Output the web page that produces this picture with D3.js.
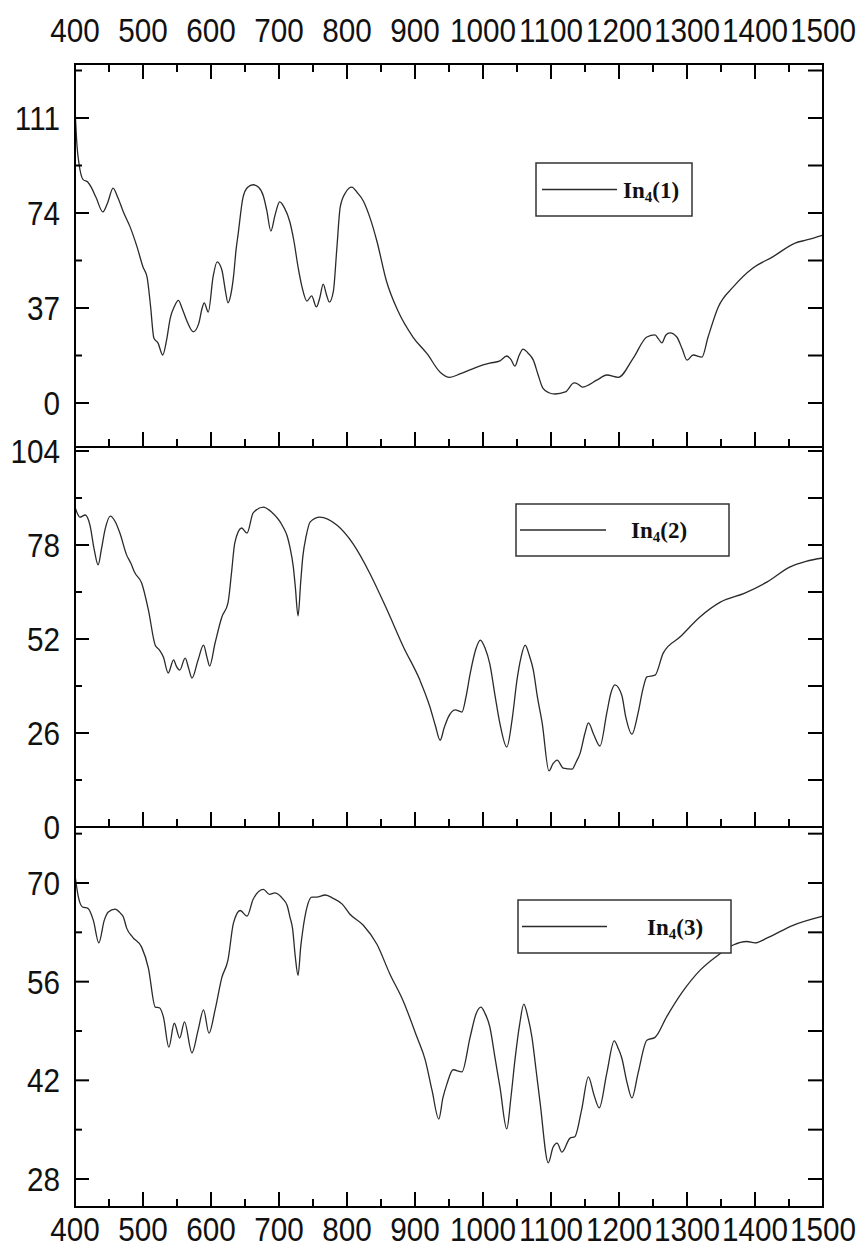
<!DOCTYPE html>
<html>
<head>
<meta charset="utf-8">
<script src="https://cdn.jsdelivr.net/npm/d3@7"></script>
<style>
  body { margin: 0; background: #fff; }
  svg { display: block; }
</style>
</head>
<body>
<script>
// wavenumber ticks (shared by all three panels)
var waveTicks = [400, 500, 600, 700, 800, 900, 1000, 1100, 1200, 1300, 1400, 1500];

// In4(1)
var wave1 = [400,403,406,412,419,424,431,441,448,456,463,471,481,491,500,506,511,516,522,529,535,540,546,552,558,564,574,582,587,590,596,603,609,616,621,625,629,633,637,640,647,654,662,670,677,682,688,694,701,708,716,722,728,734,741,748,755,760,765,770,774,780,785,790,798,807,815,824,834,844,858,875,897,918,937,951,966,991,1010,1025,1035,1041,1047,1053,1059,1066,1074,1081,1088,1097,1106,1121,1134,1140,1146,1168,1182,1199,1221,1241,1253,1258,1263,1269,1275,1285,1293,1300,1309,1322,1331,1346,1368,1397,1426,1459,1476,1500];
var trans1 = [115,100,93,87,86,84,80,74.4,78,83.7,80,74.5,68.6,61,53,49,38,25.3,23.4,18.7,25,33,37.5,40,36.5,32.3,27.7,31,37,39,35.4,49,55,51.8,44,39,42,49,60,66,80,84,85,84,80.6,75,67,73,78.3,76,70.5,63,53,45,39.7,41.7,37.4,41,46.3,42,39.3,43.6,60,76.3,82,84.1,82,78.7,72,63,47.5,35.8,25.7,19.1,12,10,11.3,14,15.5,16.4,18.3,17,14.4,18.5,21,19.5,16.7,11,5.8,4,3.5,4.3,7.8,7.3,6.2,9,10.9,10,17.5,25.7,26.5,25,23.4,26.5,27.3,25.7,21,16.7,18.7,17.9,25.7,37.4,45.2,52.6,56.9,62.3,63.5,65.4];

// In4(2)
var wave2 = [400,404,407,415,422,428,434,439,444,452,459,466,476,482,488,498,508,518,524,530,537,545,549,554,562,567,572,581,589,594,598,606,616,625,630,635,645,653,662,677,689,706,712,716,721,724,728,732,735,740,746,760,785,809,834,859,883,907,922,930,937,943,949,959,969,975,981,990,996,1003,1010,1018,1025,1035,1043,1050,1056,1062,1068,1074,1080,1087,1097,1103,1109,1118,1131,1137,1143,1150,1155,1163,1172,1182,1188,1194,1204,1210,1219,1228,1235,1241,1253,1265,1290,1319,1349,1385,1418,1451,1475,1500];
var trans2 = [88.5,86.5,85.7,86.3,83.5,77,72.5,77,82.1,86,84.5,81.3,75.2,73,70.3,67.5,60,50.3,49,47,42.6,46.2,44.5,43.4,46.7,44,41.2,46.2,50.3,47,44.5,50.9,58.1,62,70,78.6,82.7,81.3,86.9,88.5,87.1,83,80.5,77.5,72,66.4,58.4,68,74.7,80.5,84.4,85.7,83.5,78.3,70,60,49.8,40.7,33.2,28,24,27.5,30.4,32.4,31.8,36,42.3,49.5,51.7,49.5,45.1,36,28.5,22.1,30,40.7,47,50.3,47.5,43.4,36,28.8,15.5,17.5,18.5,16.3,16,18,20.5,26,28.8,25.5,22.4,31.5,37,39.3,36.5,30.4,25.7,31.5,38,41.5,42,48.1,52.6,58.1,62.2,64.7,67.8,71.9,73.5,74.4];

// In4(3)
var wave3 = [400,405,411,419,427,435,443,449,459,466,471,476,485,498,508,518,524,530,538,546,554,561,572,581,589,597,606,616,625,633,643,653,662,677,686,694,706,712,716,720,724,728,732,735,741,748,755,768,780,793,804,824,844,863,882,903,915,925,935,941,947,956,969,981,990,997,1003,1010,1018,1025,1035,1041,1047,1054,1060,1066,1072,1078,1084,1096,1103,1109,1116,1128,1135,1145,1155,1163,1171,1182,1193,1199,1204,1212,1219,1228,1241,1253,1270,1293,1319,1349,1368,1388,1400,1418,1456,1500];
var trans3 = [71.1,68,66.6,66.4,64.7,61.5,64.7,65.9,66.3,65.8,65.2,63.6,62.3,60.9,57.9,52.4,52.3,51,46.7,50.1,48,50.3,45.9,49.1,52,48.7,52,56.6,59.1,64.3,66.1,65.3,67.7,69.1,68.4,68.6,67.7,66.8,65.2,63.5,59.5,56.9,61,63.3,66.5,68,68,68.3,67.8,67,65.6,64,61.3,57.1,53.4,48.1,44.9,40.6,36.5,39.5,41.5,43.5,43.2,48.1,51.5,52.4,51.5,49.6,45,41,35.1,39.5,44.9,50,52.8,51,48.1,43.5,38.8,30.3,32.5,33.1,31.8,33.8,34,37.8,42.5,40,38.1,43,47.6,46.5,45.2,41.6,39.5,43,47.7,48.1,51,54.5,57.6,60,61.2,61.7,61.5,62.2,64,65.3];

var majorY1 = [0, 37, 74, 111];
var minorY1 = [18.5, 55.5, 92.5, 129.5];
var majorY2 = [0, 26, 52, 78, 104];
var minorY2 = [13, 39, 65, 91];
var majorY3 = [28, 42, 56, 70];
var minorY3 = [35, 49, 63, 77];

var labels = ['In', '4', '(1)', '(2)', '(3)'];

var W = 862, H = 1249;
var left = 75, right = 823;
var narrow = 0.9; // the tick labels are a bit condensed

var svg = d3.select('body').append('svg')
  .attr('width', W)
  .attr('height', H);

var x = d3.scaleLinear().domain([400, 1500]).range([left, right]);

var panels = [
  { top: 64, bottom: 447, y: d3.scaleLinear().domain([0, 111]).range([403, 118]),
    wave: wave1, trans: trans1, major: majorY1, minor: minorY1, name: labels[2],
    legend: { x: 536, y: 163, w: 156, h: 53, l1: 542, l2: 617, tx: 623 }, topAxis: true },
  { top: 447, bottom: 827, y: d3.scaleLinear().domain([0, 104]).range([827, 451]),
    wave: wave2, trans: trans2, major: majorY2, minor: minorY2, name: labels[3],
    legend: { x: 516, y: 504, w: 213, h: 52, l1: 520, l2: 606, tx: 631 } },
  { top: 827, bottom: 1207, y: d3.scaleLinear().domain([28, 70]).range([1179, 883]),
    wave: wave3, trans: trans3, major: majorY3, minor: minorY3, name: labels[4],
    legend: { x: 518, y: 900, w: 213, h: 53, l1: 522, l2: 607, tx: 647 }, bottomLabels: true }
];

var minorX = d3.range(450, 1500, 100);

var tickLabel = function(sel) {
  sel.attr('font-family', 'Liberation Sans, Arial, sans-serif')
    .attr('font-size', 33)
    .attr('fill', '#111')
    .text(function(d) { return d; });
};

panels.forEach(function(p) {
  var g = svg.append('g');

  var pts = p.wave.map(function(w, i) { return [w, p.trans[i]]; });
  var line = d3.line()
    .x(function(d) { return x(d[0]); })
    .y(function(d) { return p.y(d[1]); })
    .curve(d3.curveMonotoneX);

  g.append('path')
    .datum(pts)
    .attr('d', line)
    .attr('fill', 'none')
    .attr('stroke', '#2a2a2a')
    .attr('stroke-width', 1.3);

  // left ticks, inward
  g.selectAll('.ly').data(p.major).enter().append('line')
    .attr('x1', left).attr('x2', left + 14)
    .attr('y1', function(d) { return p.y(d); })
    .attr('y2', function(d) { return p.y(d); })
    .attr('stroke', '#000').attr('stroke-width', 2);
  g.selectAll('.lmy').data(p.minor).enter().append('line')
    .attr('x1', left).attr('x2', left + 7)
    .attr('y1', function(d) { return p.y(d); })
    .attr('y2', function(d) { return p.y(d); })
    .attr('stroke', '#000').attr('stroke-width', 2);
  // right ticks, all same length
  g.selectAll('.ry').data(p.major.concat(p.minor)).enter().append('line')
    .attr('x1', right - 15).attr('x2', right)
    .attr('y1', function(d) { return p.y(d); })
    .attr('y2', function(d) { return p.y(d); })
    .attr('stroke', '#000').attr('stroke-width', 2);

  // y labels
  g.selectAll('.yl').data(p.major).enter().append('text')
    .attr('transform', function(d) { return 'translate(60,' + (p.y(d) + 12) + ') scale(' + narrow + ',1)'; })
    .attr('text-anchor', 'end')
    .call(tickLabel);

  // bottom ticks
  g.selectAll('.bx').data(waveTicks).enter().append('line')
    .attr('x1', function(d) { return x(d); }).attr('x2', function(d) { return x(d); })
    .attr('y1', p.bottom).attr('y2', p.bottom - 15)
    .attr('stroke', '#000').attr('stroke-width', 2);
  g.selectAll('.bmx').data(minorX).enter().append('line')
    .attr('x1', function(d) { return x(d); }).attr('x2', function(d) { return x(d); })
    .attr('y1', p.bottom).attr('y2', p.bottom - 8)
    .attr('stroke', '#000').attr('stroke-width', 2);

  if (p.topAxis) {
    g.selectAll('.tx').data(waveTicks).enter().append('line')
      .attr('x1', function(d) { return x(d); }).attr('x2', function(d) { return x(d); })
      .attr('y1', p.top).attr('y2', p.top + 15)
      .attr('stroke', '#000').attr('stroke-width', 2);
    g.selectAll('.tmx').data(minorX).enter().append('line')
      .attr('x1', function(d) { return x(d); }).attr('x2', function(d) { return x(d); })
      .attr('y1', p.top).attr('y2', p.top + 8)
      .attr('stroke', '#000').attr('stroke-width', 2);
    g.selectAll('.txl').data(waveTicks).enter().append('text')
      .attr('transform', function(d) { return 'translate(' + x(d) + ',42) scale(' + narrow + ',1)'; })
      .attr('text-anchor', 'middle')
      .call(tickLabel);
  }
  if (p.bottomLabels) {
    g.selectAll('.bxl').data(waveTicks).enter().append('text')
      .attr('transform', function(d) { return 'translate(' + x(d) + ',1241) scale(' + narrow + ',1)'; })
      .attr('text-anchor', 'middle')
      .call(tickLabel);
  }

  // frame
  g.append('rect')
    .attr('x', left).attr('y', p.top)
    .attr('width', right - left).attr('height', p.bottom - p.top)
    .attr('fill', 'none').attr('stroke', '#000').attr('stroke-width', 2);

  // legend
  var L = p.legend;
  g.append('rect')
    .attr('x', L.x).attr('y', L.y).attr('width', L.w).attr('height', L.h)
    .attr('fill', '#fff').attr('stroke', '#333').attr('stroke-width', 1.5);
  var cy = L.y + L.h / 2;
  g.append('line')
    .attr('x1', L.l1).attr('x2', L.l2).attr('y1', cy).attr('y2', cy)
    .attr('stroke', '#2a2a2a').attr('stroke-width', 1.3);
  var t = g.append('text')
    .attr('x', L.tx).attr('y', cy + 8)
    .attr('font-family', 'Liberation Serif, Times New Roman, serif')
    .attr('font-weight', 'bold')
    .attr('font-size', 23)
    .attr('fill', '#111');
  t.append('tspan').text(labels[0]);
  t.append('tspan').attr('font-size', 15).attr('dy', 4).text(labels[1]);
  t.append('tspan').attr('dy', -4).text(p.name);
});
</script>
</body>
</html>
